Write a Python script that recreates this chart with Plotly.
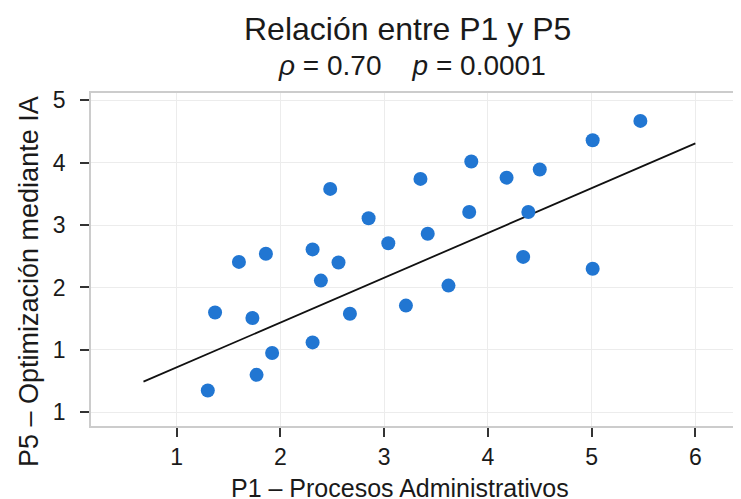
import plotly.graph_objects as go

# Data
p1_values = [1.30, 1.37, 1.60, 1.73, 1.77, 1.86, 1.92, 2.31, 2.31, 2.39, 2.48, 2.56, 2.67, 2.85,
             3.04, 3.21, 3.35, 3.42, 3.62, 3.82, 3.84, 4.18, 4.34, 4.39, 4.50, 5.01, 5.01, 5.47]
p5_values = [0.35, 1.60, 2.41, 1.51, 0.60, 2.54, 0.95, 2.61, 1.12, 2.11, 3.58, 2.40, 1.58, 3.11,
             2.71, 1.71, 3.74, 2.86, 2.03, 3.21, 4.02, 3.76, 2.49, 3.21, 3.89, 4.36, 2.30, 4.67]

fit_x = [0.68, 6.0]
fit_y = [0.49, 4.31]

x_tick_vals = [1, 2, 3, 4, 5, 6]
x_tick_text = ["1", "2", "3", "4", "5", "6"]
y_tick_vals = [0, 1, 2, 3, 4, 5]
y_tick_text = ["1", "1", "2", "3", "4", "5"]

title_main = "Relación entre P1 y P5"
title_sub = "<i>ρ</i> = 0.70\u00a0\u00a0\u00a0\u00a0<i>p</i> = 0.0001"
x_title = "P1 – Procesos Administrativos"
y_title = "P5 – Optimización mediante IA"

FONT = "Liberation Sans, Arial, sans-serif"
TXT = "#1a1a1a"

# the page adds an 8px body margin; the figure is sized to fill the rest of the window
OFF = 8
W, H = 741 - OFF, 499 - OFF
L, R, T, B = 91 - OFF, 0, 93 - OFF, 499 - 426
PW, PH = W - L - R, H - T - B


def px_x(px):
    return (px - OFF - L) / PW


def px_y(py):
    return (H - B - (py - OFF)) / PH


fig = go.Figure()
fig.add_trace(go.Scatter(
    x=fit_x, y=fit_y, mode="lines",
    line=dict(color="#111111", width=1.8),
    showlegend=False, hoverinfo="skip",
))
fig.add_trace(go.Scatter(
    x=p1_values, y=p5_values, mode="markers",
    marker=dict(color="#2176d2", size=14, line=dict(width=0)),
    showlegend=False,
))

annos = [
    dict(text=title_main, x=px_x(407), y=px_y(29), font=dict(size=32)),
    dict(text=title_sub, x=px_x(412), y=px_y(66), font=dict(size=28)),
    dict(text=x_title, x=px_x(400), y=px_y(488), font=dict(size=25)),
    dict(text=y_title, x=px_x(29), y=px_y(282), font=dict(size=27), textangle=-90),
]
for a in annos:
    a.update(xref="paper", yref="paper", xanchor="center", yanchor="middle",
             showarrow=False)
    a["font"].update(family=FONT, color=TXT)

fig.update_layout(
    width=W, height=H,
    margin=dict(l=L, r=R, t=T, b=B, autoexpand=False),
    paper_bgcolor="white", plot_bgcolor="white",
    font=dict(family=FONT, color=TXT, size=23),
    annotations=annos,
    xaxis=dict(
        range=[0.174, 6.44],
        tickvals=x_tick_vals, ticktext=x_tick_text,
        ticks="outside", ticklen=9, tickwidth=2, tickcolor="#333333",
        ticklabelstandoff=1,
        showgrid=True, gridcolor="#ececec", gridwidth=1,
        zeroline=False, automargin=False,
        showline=True, linecolor="#cccccc", linewidth=1.5, mirror=True,
        tickfont=dict(size=23, family=FONT, color=TXT),
    ),
    yaxis=dict(
        range=[-0.22, 5.117],
        tickvals=y_tick_vals, ticktext=y_tick_text,
        ticks="outside", ticklen=9, tickwidth=2, tickcolor="#333333",
        ticklabelstandoff=10,
        showgrid=True, gridcolor="#ececec", gridwidth=1,
        zeroline=False, automargin=False,
        showline=True, linecolor="#cccccc", linewidth=1.5, mirror=False,
        tickfont=dict(size=23, family=FONT, color=TXT),
    ),
)

fig.write_html("out.html")
